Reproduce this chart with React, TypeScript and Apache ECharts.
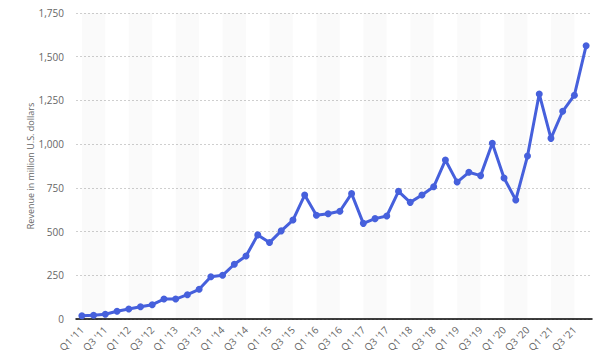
import React, { useEffect, useRef } from "react";
import * as echarts from "echarts";

const years = ["11", "12", "13", "14", "15", "16", "17", "18", "19", "20", "21"];
const quarters = ["Q1", "Q2", "Q3", "Q4"];
const categories: string[] = [];
years.forEach((y) => quarters.forEach((q) => categories.push(`${q} '${y}`)));

const revenue = [
  19, 21, 27, 44,
  57, 70, 82, 114,
  114, 139, 170, 242,
  250, 313, 360, 481,
  437, 504, 566, 709,
  593, 602, 616, 717,
  547, 574, 589, 730,
  667, 709, 756, 909,
  783, 839, 820, 1005,
  806, 681, 932, 1287,
  1033, 1188, 1280, 1563,
];

const yTicks = { min: 0, max: 1750, interval: 250 };

export default function App() {
  const ref = useRef<HTMLDivElement>(null);
  useEffect(() => {
    document.body.style.margin = "0";
    if (!ref.current) return;
    const chart = echarts.init(ref.current, undefined, { renderer: "svg" });
    const bands: any[] = [];
    for (let i = 0; i + 2 < categories.length; i += 4) {
      bands.push([{ xAxis: categories[i] }, { xAxis: categories[i + 2] }]);
    }
    chart.setOption({
      animation: false,
      textStyle: { fontFamily: "Open Sans" },
      grid: { left: 76, right: 8, top: 13, bottom: 45 },
      xAxis: {
        type: "category",
        data: categories,
        boundaryGap: true,
        axisLine: { lineStyle: { color: "#000", width: 1.5 } },
        axisTick: { show: false },
        axisLabel: {
          interval: 1,
          rotate: 45,
          color: "#666",
          fontSize: 10,
          margin: 9,
        },
        splitLine: { show: false },
      },
      yAxis: {
        type: "value",
        min: yTicks.min,
        max: yTicks.max,
        interval: yTicks.interval,
        name: "Revenue in million U.S. dollars",
        nameLocation: "middle",
        nameGap: 41,
        nameMoveOverlap: false,
        nameTextStyle: { color: "#666", fontSize: 9 },
        axisLine: { show: false },
        axisTick: { show: false },
        axisLabel: {
          color: "#666",
          fontSize: 10,
          margin: 12,
          formatter: (v: number) => v.toLocaleString("en-US"),
        },
        splitLine: { lineStyle: { color: "#cfcfcf", type: [2, 2], width: 1 } },
      },
      series: [
        {
          type: "line",
          data: revenue,
          lineStyle: { color: "#4660dc", width: 3 },
          itemStyle: { color: "#4660dc" },
          symbol: "circle",
          symbolSize: 7,
          showSymbol: true,
          markArea: {
            silent: true,
            itemStyle: { color: "rgba(0,0,0,0.02)" },
            data: bands,
          },
        },
      ],
    });
    return () => chart.dispose();
  }, []);
  return <div ref={ref} style={{ width: 600, height: 364 }} />;
}
